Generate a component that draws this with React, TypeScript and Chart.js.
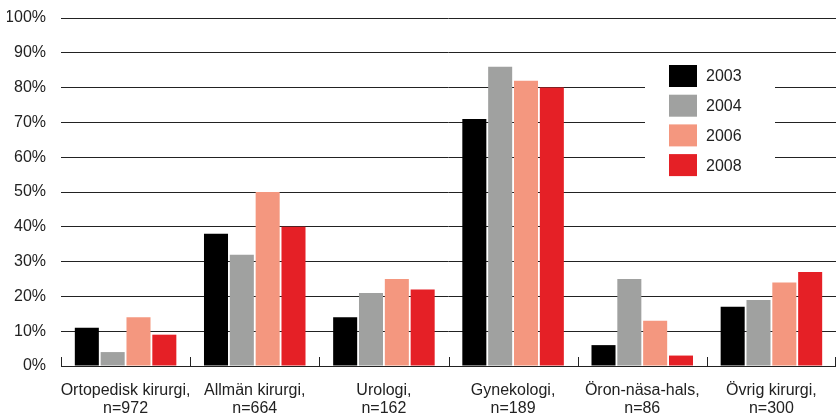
import React, { useEffect, useRef } from "react";
import { Chart, registerables } from "chart.js";

Chart.register(...registerables);

const categories: string[][] = [
  ["Ortopedisk kirurgi,", "n=972"],
  ["Allmän kirurgi,", "n=664"],
  ["Urologi,", "n=162"],
  ["Gynekologi,", "n=189"],
  ["Öron-näsa-hals,", "n=86"],
  ["Övrig kirurgi,", "n=300"],
];

const years = ["2003", "2004", "2006", "2008"];
const values2003 = [11, 38, 14, 71, 6, 17];
const values2004 = [4, 32, 21, 86, 25, 19];
const values2006 = [14, 50, 25, 82, 13, 24];
const values2008 = [9, 40, 22, 80, 3, 27];
const colors = ["#000000", "#a0a1a0", "#f4977f", "#e52026"];

const FONT = "'Liberation Sans', Arial, Helvetica, sans-serif";

const boundaryTicks = {
  id: "boundaryTicks",
  afterDatasetsDraw(chart: any) {
    const { ctx, chartArea } = chart;
    const n = categories.length;
    const w = (chartArea.right - chartArea.left) / n;
    ctx.save();
    ctx.strokeStyle = "#222";
    ctx.lineWidth = 1;
    for (let i = 0; i <= n; i++) {
      let px = Math.round(chartArea.left + i * w) + 0.5;
      if (i === n) px = chartArea.right - 0.5;
      ctx.beginPath();
      ctx.moveTo(px, chartArea.bottom);
      ctx.lineTo(px, chartArea.bottom - 9);
      ctx.stroke();
    }
    ctx.restore();
  },
};

const customLegend = {
  id: "customLegend",
  afterDraw(chart: any) {
    const { ctx, scales } = chart;
    const y = scales.y;
    const top = y.getPixelForValue(88.8);
    const bottom = y.getPixelForValue(51.5);
    ctx.save();
    ctx.fillStyle = "#ffffff";
    ctx.fillRect(645, top, 130, bottom - top);
    const ds = chart.data.datasets;
    const startY = 65;
    const step = 29.7;
    ctx.font = `16px ${FONT}`;
    ctx.textBaseline = "middle";
    ctx.textAlign = "left";
    for (let i = 0; i < ds.length; i++) {
      const by = startY + i * step;
      ctx.fillStyle = ds[i].backgroundColor;
      ctx.fillRect(669, by, 28, 22);
      ctx.fillStyle = "#222";
      ctx.fillText(ds[i].label, 706, by + 12);
    }
    ctx.restore();
  },
};

export default function App() {
  const ref = useRef<HTMLCanvasElement>(null);
  useEffect(() => {
    if (!ref.current) return;
    const series = [values2003, values2004, values2006, values2008];
    const chart = new Chart(ref.current, {
      type: "bar",
      data: {
        labels: categories,
        datasets: series.map((d, i) => ({
          label: years[i],
          data: d,
          backgroundColor: colors[i],
          categoryPercentage: 0.8,
          barPercentage: 0.93,
        })),
      },
      options: {
        responsive: false,
        animation: false,
        devicePixelRatio: 1,
        layout: { padding: { left: 7, right: 0, top: 18, bottom: 0 } },
        plugins: {
          legend: { display: false },
          tooltip: { enabled: false },
        },
        scales: {
          y: {
            min: 0,
            max: 100,
            afterFit: (s: any) => {
              s.width = 54;
              s.paddingTop = 0;
              s.paddingBottom = 0;
            },
            ticks: {
              stepSize: 10,
              padding: 15,
              color: "#222",
              font: { family: FONT, size: 16 },
              callback: (v: any) => v + "%",
            },
            grid: { color: "#222", lineWidth: 1, drawTicks: false },
            border: { display: false },
          },
          x: {
            afterFit: (s: any) => {
              s.height = 49;
              s.paddingLeft = 0;
              s.paddingRight = 0;
            },
            ticks: {
              color: "#222",
              padding: 16,
              maxRotation: 0,
              autoSkip: false,
              font: { family: FONT, size: 16, lineHeight: 1.1 },
            },
            grid: { display: false, drawTicks: false },
            border: { display: true, color: "#222", width: 1 },
          },
        },
      },
      plugins: [boundaryTicks, customLegend],
    } as any);
    return () => chart.destroy();
  }, []);
  return (
    <div style={{ position: "fixed", left: 0, top: 0, width: 836, height: 415, background: "#fff" }}>
      <canvas ref={ref} width={836} height={415} />
    </div>
  );
}
